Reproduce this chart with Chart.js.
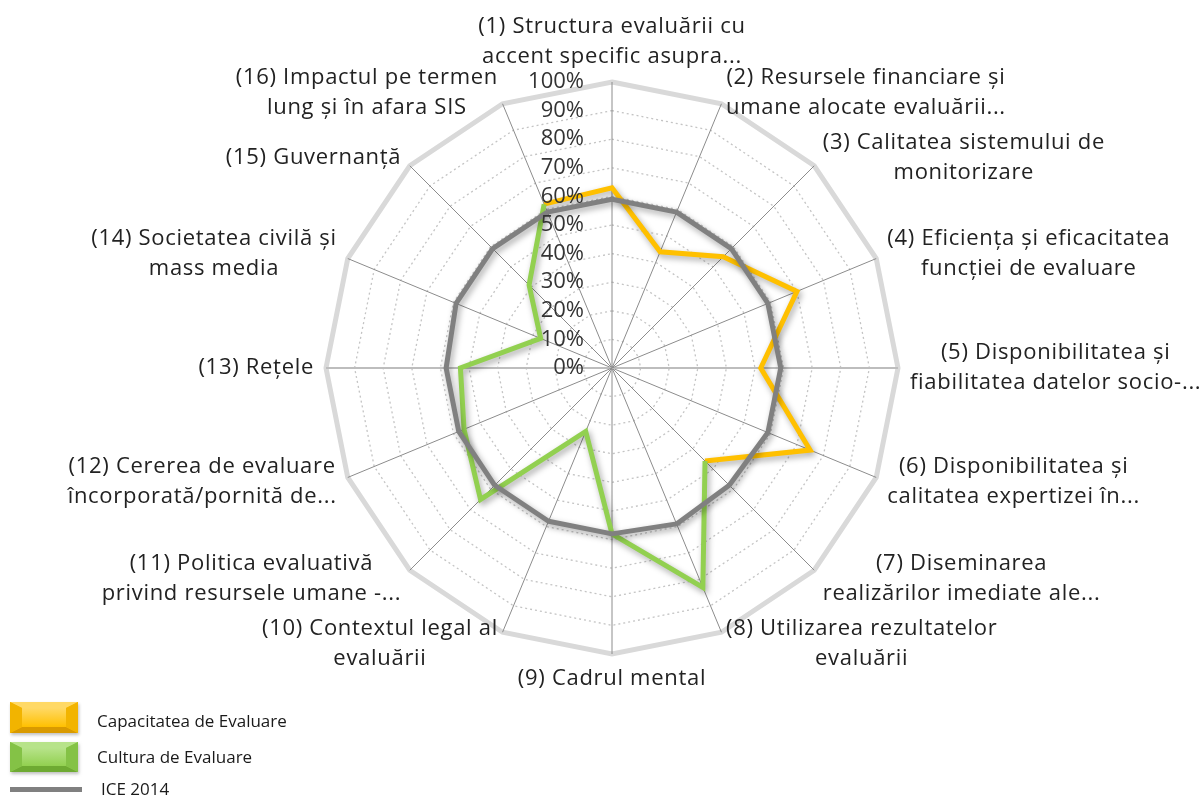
<!DOCTYPE html>
<html>
<head>
<meta charset="utf-8">
<script src="https://cdn.jsdelivr.net/npm/chart.js@4.4.1/dist/chart.umd.min.js"></script>
<style>
  html, body { margin: 0; padding: 0; background: #ffffff; }
  canvas { display: block; }
</style>
</head>
<body>
<canvas id="c" width="1200" height="796"></canvas>
<script>
// ---- DATA ----
const categories = [
  ["(1) Structura evaluării cu", "accent specific asupra..."],
  ["(2) Resursele financiare și", "umane alocate evaluării..."],
  ["(3) Calitatea sistemului de", "monitorizare"],
  ["(4) Eficiența și eficacitatea", "funcției de evaluare"],
  ["(5) Disponibilitatea și", "fiabilitatea datelor socio-..."],
  ["(6) Disponibilitatea și", "calitatea expertizei în..."],
  ["(7) Diseminarea", "realizărilor imediate ale..."],
  ["(8) Utilizarea rezultatelor", "evaluării"],
  ["(9) Cadrul mental"],
  ["(10) Contextul legal al", "evaluării"],
  ["(11) Politica evaluativă", "privind resursele umane -..."],
  ["(12) Cererea de evaluare", "încorporată/pornită de..."],
  ["(13) Rețele"],
  ["(14) Societatea civilă și", "mass media"],
  ["(15) Guvernanță"],
  ["(16) Impactul pe termen", "lung și în afara SIS"]
];
const capacitate = [63, 44, 55, 70, 52, 75, 46, null, null, null, null, null, null, null, null, 62];
const cultura    = [null, null, null, null, null, null, 46, 83, 58, 24, 65, 56, 53, 27, 41, 62];
const ice2014    = [59, 59, 59, 59, 59, 59, 58, 59, 58, 58, 58, 58, 58, 59, 59, 59];
const seriesNames = ["Capacitatea de Evaluare", "Cultura de Evaluare", "ICE 2014"];
const tickValues = [0, 10, 20, 30, 40, 50, 60, 70, 80, 90, 100];
const tickLabels = ["0%", "10%", "20%", "30%", "40%", "50%", "60%", "70%", "80%", "90%", "100%"];

const FONT = "'Open Sans', 'Noto Sans', sans-serif";

function drawBevelBox(ctx, x, y, w, h, base, light, dark, mid) {
  const bx = 12, by = 6;
  ctx.save();
  ctx.shadowColor = 'rgba(0,0,0,0.25)';
  ctx.shadowBlur = 3; ctx.shadowOffsetX = 1; ctx.shadowOffsetY = 2;
  ctx.fillStyle = base;
  ctx.fillRect(x, y, w, h);
  ctx.restore();
  ctx.fillStyle = light;
  ctx.beginPath(); ctx.moveTo(x, y); ctx.lineTo(x + w, y); ctx.lineTo(x + w - bx, y + by); ctx.lineTo(x + bx, y + by); ctx.closePath(); ctx.fill();
  ctx.fillStyle = dark;
  ctx.beginPath(); ctx.moveTo(x, y + h); ctx.lineTo(x + w, y + h); ctx.lineTo(x + w - bx, y + h - by); ctx.lineTo(x + bx, y + h - by); ctx.closePath(); ctx.fill();
  ctx.fillStyle = mid;
  ctx.beginPath(); ctx.moveTo(x, y); ctx.lineTo(x + bx, y + by); ctx.lineTo(x + bx, y + h - by); ctx.lineTo(x, y + h); ctx.closePath(); ctx.fill();
  ctx.beginPath(); ctx.moveTo(x + w, y); ctx.lineTo(x + w - bx, y + by); ctx.lineTo(x + w - bx, y + h - by); ctx.lineTo(x + w, y + h); ctx.closePath(); ctx.fill();
  const g = ctx.createLinearGradient(0, y + by, 0, y + h - by);
  g.addColorStop(0, light); g.addColorStop(1, base);
  ctx.fillStyle = g;
  ctx.fillRect(x + bx, y + by, w - 2 * bx, h - 2 * by);
}

const customDraw = {
  id: 'customDraw',
  beforeDatasetDraw(chart) {
    const ctx = chart.ctx;
    ctx.save();
    ctx.shadowColor = 'rgba(0,0,0,0.35)';
    ctx.shadowBlur = 6;
    ctx.shadowOffsetX = 2;
    ctx.shadowOffsetY = 3;
  },
  afterDatasetDraw(chart) {
    chart.ctx.restore();
  },
  afterDraw(chart) {
    const ctx = chart.ctx;
    const scale = chart.scales.r;
    ctx.save();
    // tick labels (left of vertical axis)
    ctx.font = "22px " + FONT;
    ctx.fillStyle = '#333333';
    ctx.textAlign = 'right';
    ctx.textBaseline = 'middle';
    tickValues.forEach((v, k) => {
      const p = scale.getPointPositionForValue(0, v);
      ctx.fillText(tickLabels[k], scale.xCenter - 28, p.y);
    });
    // point labels
    const n = categories.length;
    const lh = 30;
    ctx.font = "22px " + FONT;
    if ('letterSpacing' in ctx) ctx.letterSpacing = '0.7px';
    ctx.fillStyle = '#222222';
    ctx.textBaseline = 'middle';
    ctx.textAlign = 'center';
    categories.forEach((lines, i) => {
      const p = scale.getPointPosition(i, scale.drawingArea + 12);
      const deg = i * 360 / n;
      const widths = lines.map(t => ctx.measureText(t).width);
      const bw = Math.max(...widths);
      const bh = lines.length * lh;
      let cx, top;
      if (deg === 0) { cx = p.x; top = p.y - bh + 2; }
      else if (deg === 180) { cx = p.x; top = p.y - 2; }
      else if (deg < 180) { cx = p.x + bw / 2; top = p.y - bh / 2; }
      else { cx = p.x - bw / 2; top = p.y - bh / 2; }
      lines.forEach((t, k) => ctx.fillText(t, cx, top + lh * k + lh / 2));
    });
    if ('letterSpacing' in ctx) ctx.letterSpacing = '0px';
    // legend
    const ds = chart.data.datasets;
    ctx.font = "17px " + FONT;
    ctx.textAlign = 'left';
    drawBevelBox(ctx, 10, 702, 68, 31, ds[0].borderColor, '#FFD966', '#D99A00', '#F2B400');
    ctx.fillStyle = '#1a1a1a';
    ctx.fillText(ds[0].label, 97, 722);
    drawBevelBox(ctx, 10, 742, 68, 30, ds[1].borderColor, '#B7E38A', '#6EAA32', '#84C246');
    ctx.fillStyle = '#1a1a1a';
    ctx.fillText(ds[1].label, 97, 758);
    ctx.fillStyle = ds[2].borderColor;
    ctx.fillRect(10, 787, 72, 5);
    ctx.fillStyle = '#1a1a1a';
    ctx.fillText(ds[2].label, 101, 790);
    ctx.restore();
  }
};

new Chart(document.getElementById('c'), {
  type: 'radar',
  data: {
    labels: categories,
    datasets: [
      { label: seriesNames[0], data: capacitate, borderColor: '#FFC000', backgroundColor: 'transparent', borderWidth: 5, pointRadius: 0, fill: false, order: 2, borderJoinStyle: 'miter' },
      { label: seriesNames[1], data: cultura, borderColor: '#92D050', backgroundColor: 'transparent', borderWidth: 5, pointRadius: 0, fill: false, order: 1, borderJoinStyle: 'miter' },
      { label: seriesNames[2], data: ice2014, borderColor: '#808080', backgroundColor: 'transparent', borderWidth: 5, pointRadius: 0, fill: false, order: 0, borderJoinStyle: 'round' }
    ]
  },
  options: {
    responsive: false,
    animation: false,
    spanGaps: false,
    layout: { padding: { left: 326, right: 302, top: 82, bottom: 142 } },
    plugins: { legend: { display: false }, tooltip: { enabled: false } },
    elements: { line: { tension: 0 } },
    scales: {
      r: {
        min: 0, max: 100,
        startAngle: 0,
        ticks: { display: false, stepSize: 10 },
        pointLabels: { display: false },
        angleLines: {
          color: (c) => (c.index === 4 || c.index === 12) ? '#bdbdbd' : '#8c8c8c',
          lineWidth: (c) => (c.index === 4 || c.index === 12) ? 2 : 1
        },
        grid: {
          circular: false,
          color: (c) => c.tick && c.tick.value === 100 ? '#d9d9d9' : '#c4c4c4',
          lineWidth: (c) => c.tick && c.tick.value === 100 ? 5 : 1.3
        },
        border: {
          dash: (c) => c.tick && c.tick.value === 100 ? [] : [2, 3]
        }
      }
    }
  },
  plugins: [customDraw]
});
</script>
</body>
</html>
